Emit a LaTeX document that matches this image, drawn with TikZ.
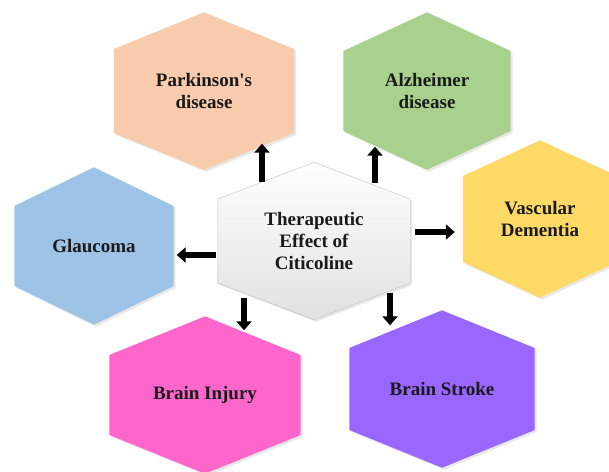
\documentclass[tikz,border=0pt]{standalone}
\usepackage{fontspec}
\setmainfont{Liberation Serif}
\usetikzlibrary{positioning, calc, backgrounds, shadows, arrows.meta}

\definecolor{peach}{HTML}{F8CBAD}
\definecolor{sage}{HTML}{A9D18E}
\definecolor{sky}{HTML}{9DC3E6}
\definecolor{sun}{HTML}{FFD966}
\definecolor{rose}{HTML}{FF66CC}
\definecolor{lilac}{HTML}{9966FF}
\definecolor{inkcol}{HTML}{1A1A1A}

% hexagon behind a node: name, half side, style
\newcommand{\hexfill}[3]{%
  \path[#3] (#1.north) -- ($(#1.east)+(0,-#2)$) -- ($(#1.east)+(0,#2)$)
    -- (#1.south) -- ($(#1.west)+(0,#2)$) -- ($(#1.west)+(0,-#2)$) -- cycle;}

\tikzset{
	hexshadow/.style={drop shadow={opacity=0.18, shadow xshift=2pt, shadow yshift=-2pt}}
}

\begin{document}
\begin{tikzpicture}[x=1pt, y=-1pt]

      \tikzset{
        hexnode/.style={
            shape=rectangle,
            minimum height=157pt,
            inner sep=0pt,
            align=center,
            text=inkcol,
            font=\bfseries\fontsize{19}{21.7}\selectfont
          },
        bigarrow/.style={
            line width=5.5pt,
            -{Triangle[width=15pt,length=9pt]}
          }
      }

      \useasboundingbox (0,0) rectangle (609,471);
      \clip (0,0) rectangle (609,471);

      \node[hexnode, minimum width=192pt] (cit) at (314,241) {Therapeutic\\Effect of\\Citicoline};
      \node[hexnode, minimum width=180pt] (park) at (204,91) {Parkinson\textquotesingle s\\disease};
      \node[hexnode, minimum width=167pt] (alz) at (427,91) {Alzheimer\\disease};
      \node[hexnode, minimum width=159pt] (glau) at (94,246) {Glaucoma};
      \node[hexnode, minimum width=154pt] (vasc) at (540,219) {Vascular\\Dementia};
      \node[hexnode, minimum width=191pt] (inj) at (205,395) {Brain Injury};
      \node[hexnode, minimum width=185pt] (str) at (442,389) {Brain Stroke};

      \begin{scope}[on background layer]
        \hexfill{park}{42}{fill=peach, hexshadow}
        \hexfill{alz}{40}{fill=sage, hexshadow}
        \hexfill{glau}{40}{fill=sky, hexshadow}
        \hexfill{vasc}{43}{fill=sun, hexshadow}
        \hexfill{inj}{40}{fill=rose, hexshadow}
        \hexfill{str}{41}{fill=lilac, hexshadow}
        \hexfill{cit}{42}{top color=white, bottom color=black!12, draw=black!25, hexshadow}
      \end{scope}

      \draw[bigarrow] ([xshift=-52pt,yshift=-20pt]cit.north) -- ([xshift=58pt,yshift=26pt]park.south);
      \draw[bigarrow] ([xshift=61pt,yshift=-21pt]cit.north) -- ([xshift=-52pt,yshift=23pt]alz.south);
      \draw[bigarrow] ([xshift=5pt,yshift=9pt]cit.east) -- ([xshift=-8pt,yshift=-13pt]vasc.west);
      \draw[bigarrow] ([xshift=-2pt,yshift=-14pt]cit.west) -- ([xshift=3pt,yshift=-9pt]glau.east);
      \draw[bigarrow] ([xshift=-70pt,yshift=22pt]cit.south) -- ([xshift=39pt,yshift=-14pt]inj.north);
      \draw[bigarrow] ([xshift=76pt,yshift=27pt]cit.south) -- ([xshift=-52pt,yshift=-15pt]str.north);
    \end{tikzpicture}
\end{document}
